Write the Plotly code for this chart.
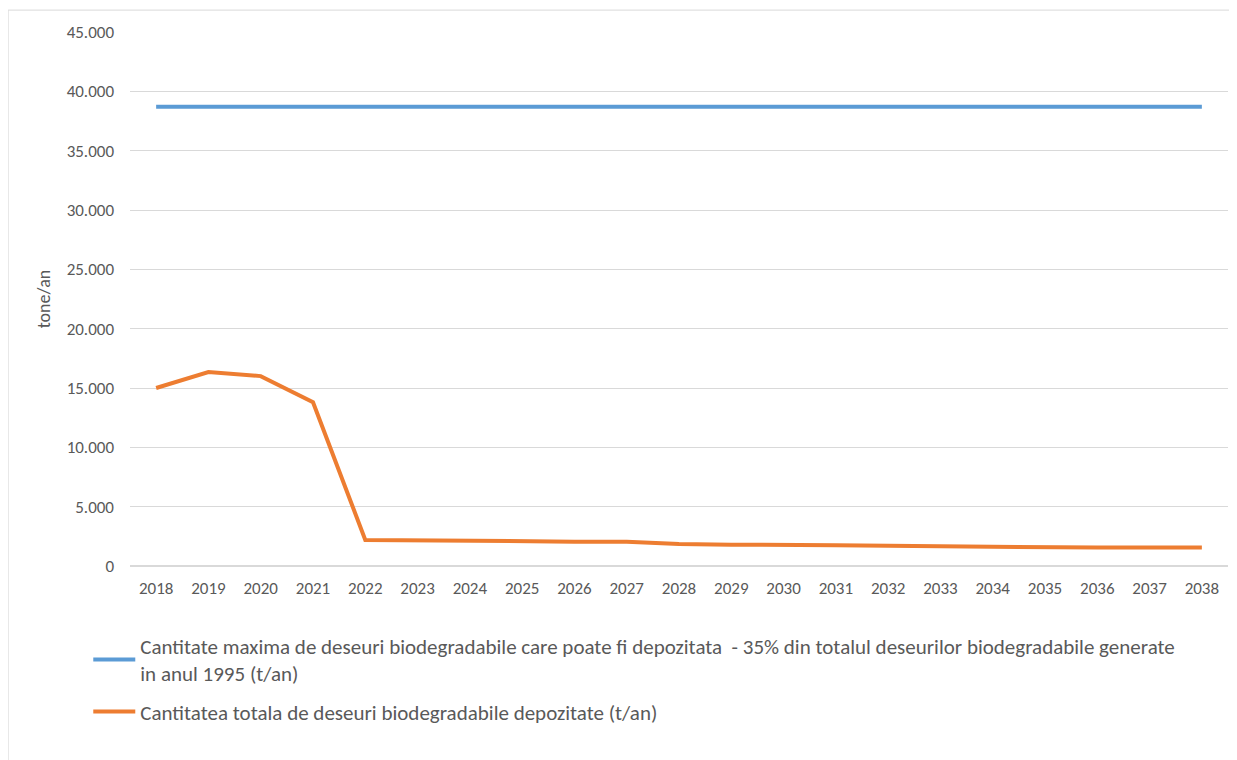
import plotly.graph_objects as go

years = [str(y) for y in range(2018, 2039)]
max_allowed = [38700] * 21
total_deposited = [15000, 16350, 16000, 13800, 2200, 2150, 2100, 2050, 2050, 2050,
                   1850, 1800, 1800, 1750, 1700, 1650, 1600, 1550, 1550, 1550, 1550]
name_max = ("Cantitate maxima de deseuri biodegradabile care poate fi depozitata  - 35% din totalul deseurilor biodegradabile generate"
            "<br>in anul 1995 (t/an)")
name_total = "Cantitatea totala de deseuri biodegradabile depozitate (t/an)"
y_ticks = [0, 5000, 10000, 15000, 20000, 25000, 30000, 35000, 40000, 45000]

fig = go.Figure()
fig.add_trace(go.Scatter(x=years, y=max_allowed, mode="lines", name=name_max, legendgroup="a",
                         line=dict(color="#5b9bd5", width=4)))
fig.add_trace(go.Scatter(x=years, y=total_deposited, mode="lines", name=name_total, legendgroup="b",
                         line=dict(color="#ed7d31", width=4)))

font_family = "Carlito, Calibri, 'Liberation Sans Narrow', 'Open Sans', sans-serif"
fig.update_layout(
    width=1229, height=752,
    margin=dict(l=122, r=9, t=24, b=194),
    paper_bgcolor="white", plot_bgcolor="white",
    separators=",.",
    font=dict(family=font_family, color="#595959", size=17),
    xaxis=dict(type="category", range=[-0.5, 20.5], showgrid=False, showline=False,
               ticks="", ticklabelstandoff=10, tickfont=dict(size=17, color="#595959")),
    yaxis=dict(range=[0, 45000], tickvals=y_ticks, tickformat=",d", showgrid=True,
               gridcolor="#d9d9d9", gridwidth=1, zeroline=True, zerolinecolor="#d9d9d9",
               ticks="", ticklen=0, ticklabelstandoff=15, tickfont=dict(size=17, color="#595959"),
               title=dict(text="tone/an", font=dict(size=18, color="#595959"), standoff=11)),
    showlegend=True,
    legend=dict(x=-0.038, y=-0.112, xanchor="left", yanchor="top", orientation="v",
                itemwidth=42,
                font=dict(size=21, color="#595959"), tracegroupgap=8, bgcolor="rgba(0,0,0,0)"),
    shapes=[dict(type="rect", xref="paper", yref="paper", x0=-0.111, x1=1.2, y0=-0.6, y1=1.041,
                 line=dict(color="#d9d9d9", width=1), fillcolor="rgba(0,0,0,0)", layer="below")],
)
fig.write_html("out.html")
